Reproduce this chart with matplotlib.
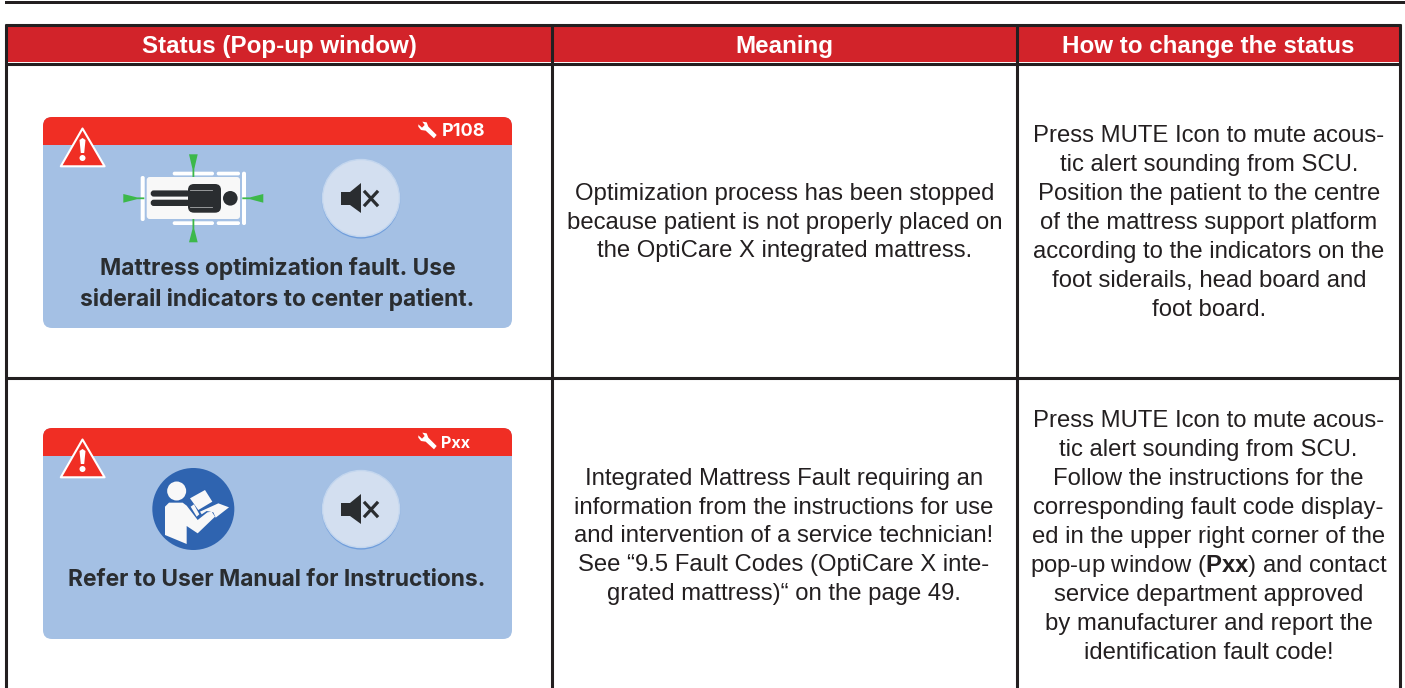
import matplotlib
matplotlib.use("Agg")
import matplotlib.pyplot as plt
from matplotlib.patches import Rectangle, Circle, Polygon, FancyBboxPatch

plt.rcParams['font.family'] = ['Liberation Sans', 'DejaVu Sans']
plt.rcParams['mathtext.fontset'] = 'custom'
plt.rcParams['mathtext.rm'] = 'Liberation Sans'
plt.rcParams['mathtext.bf'] = 'Liberation Sans:bold'

# table content
headers = ["Status (Pop-up window)", "Meaning", "How to change the status"]
meaning_1 = ["Optimization process has been stopped",
             "because patient is not properly placed on",
             "the OptiCare X integrated mattress."]
meaning_2 = ["Integrated Mattress Fault requiring an",
             "information from the instructions for use",
             "and intervention of a service technician!",
             "See \u201c9.5 Fault Codes (OptiCare X inte-",
             "grated mattress)\u201c on the page 49."]
change_1 = ["Press MUTE Icon to mute acous-",
            "tic alert sounding from SCU.",
            "Position the patient to the centre",
            "of the mattress support platform",
            "according to the indicators on the",
            "foot siderails, head board and",
            "foot board."]
change_2 = ["Press MUTE Icon to mute acous-",
            "tic alert sounding from SCU.",
            "Follow the instructions for the",
            "corresponding fault code display-",
            "ed in the upper right corner of the",
            r"pop-up window ($\mathbf{Pxx}$) and contact",
            "service department approved",
            "by manufacturer and report the",
            "identification fault code!"]
card_text_1 = ["Mattress optimization fault. Use", "siderail indicators to center patient."]
card_text_2 = ["Refer to User Manual for Instructions."]
codes = ["P108", "Pxx"]
code_sizes = [13, 11.6]

LINE = "#231f20"
RED = "#d2232a"
CARD = "#a4c0e4"
CARD_RED = "#f02e24"
DARK = "#2a2d30"
GREEN = "#3cb84a"
PAPER = "#f8f8f8"

fig = plt.figure(figsize=(14.05, 6.88), dpi=100)
ax = fig.add_axes([0, 0, 1, 1])
ax.set_xlim(0, 1405)
ax.set_ylim(688, 0)
ax.axis('off')


def rect(x0, y0, x1, y1, color, z=1):
    ax.add_patch(Rectangle((x0, y0), x1 - x0, y1 - y0, fc=color, ec='none', zorder=z))


def rrect(x0, y0, x1, y1, r, color, z=5):
    ax.add_patch(FancyBboxPatch((x0, y0), x1 - x0, y1 - y0,
                                boxstyle="round,pad=0,rounding_size=%g" % r,
                                fc=color, ec='none', zorder=z))


def poly(points, color, z=5):
    ax.add_patch(Polygon(points, closed=True, fc=color, ec='none', zorder=z))


def text_block(lines, x, y_mid, step=28.9):
    y0 = y_mid - step * (len(lines) - 1) / 2
    for i, s in enumerate(lines):
        ax.text(x, y0 + i * step, s, ha='center', va='center', fontsize=17.2, color=LINE)


def card(top, code, size):
    # blue card with red title band
    rrect(43, top, 512, top + 211, 9, CARD, 2)
    rrect(43, top, 512, top + 22, 9, CARD_RED, 3)
    rect(43, top + 12, 512, top + 28, CARD_RED, 3)

    # warning triangle
    ax.add_patch(Polygon([(82.5, top + 11.5), (60.8, top + 49.3), (104.6, top + 49.3)], closed=True,
                         fc=CARD_RED, ec='white', lw=1.5, joinstyle='round', zorder=5))
    poly([(79.5, top + 23), (82.5, top + 21), (85.5, top + 23), (84.2, top + 36), (80.8, top + 36)], 'white', 6)
    ax.add_patch(Circle((82.5, top + 41), 3, fc='white', ec='none', zorder=6))

    # wrench and fault code
    wrench = [(37, 20), (50, 22), (55, 35), (80, 60), (72, 70), (47, 47), (33, 45), (25, 35), (25, 28),
              (36, 38), (44, 30)]
    poly([(410 + a / 3, top - 2 + b / 3) for a, b in wrench], 'white', 6)
    ax.text(441.5, top + 15, code, ha='left', va='center', fontsize=size, color='white',
            family='Inter', fontweight='bold', zorder=6)

    # mute button
    cy = top + 81
    ax.add_patch(Circle((361, cy + 1), 39.5, fc='#93b5e2', ec='none', zorder=4))
    ax.add_patch(Circle((361, cy + 2), 38.5, fc='#6f9ddb', ec='none', zorder=4))
    ax.add_patch(Circle((361, cy), 38.5, fc='#d3dff0', ec='#c3d6ee', lw=1, zorder=5))
    poly([(341, cy - 6), (350, cy - 6), (361, cy - 15), (361, cy + 15), (350, cy + 7), (341, cy + 7)], DARK, 6)
    ax.plot([365, 377], [cy - 6, cy + 7], color=DARK, lw=2.3, zorder=6)
    ax.plot([365, 377], [cy + 7, cy - 6], color=DARK, lw=2.3, zorder=6)


def bed_icon(cy):
    # mattress and rails
    rrect(146.7, cy - 21, 240, cy + 21, 3, PAPER, 5)
    rrect(140.7, cy - 22, 144.7, cy + 23, 1.8, 'white', 5)
    rrect(242, cy - 26.3, 246, cy + 27, 1.8, 'white', 5)
    for yy in (cy - 26.3, cy + 23.3):
        rrect(172.7, yy, 214, yy + 3.7, 1.8, 'white', 5)
        rrect(216.7, yy, 240, yy + 3.7, 1.8, 'white', 5)
    # patient
    rrect(150.7, cy - 7.6, 190, cy - 1.4, 3, DARK, 6)
    rrect(150.7, cy + 1.7, 190, cy + 8, 3, DARK, 6)
    rrect(188, cy - 14, 221, cy + 14.7, 6, DARK, 6)
    ax.plot([190, 212], [cy - 8, cy - 8], color='#a8aaac', lw=0.6, zorder=7)
    ax.plot([190, 212], [cy + 8.7, cy + 8.7], color='#a8aaac', lw=0.6, zorder=7)
    ax.add_patch(Circle((230.3, cy + 0.3), 7.3, fc=DARK, ec='none', zorder=6))
    # green centering arrows, tapering into a thin stem
    mx = 193.4
    poly([(189, cy - 43.7), (197.7, cy - 43.7), (mx + 0.9, cy - 29), (mx + 0.9, cy - 21),
          (mx - 0.9, cy - 21), (mx - 0.9, cy - 29)], GREEN, 6)
    poly([(189, cy + 44.3), (197.7, cy + 44.3), (mx + 0.9, cy + 31), (mx + 0.9, cy + 21),
          (mx - 0.9, cy + 21), (mx - 0.9, cy + 31)], GREEN, 6)
    poly([(123.3, cy - 4), (123.3, cy + 4.7), (137, cy + 1.2), (144.3, cy + 1.2),
          (144.3, cy - 0.6), (137, cy - 0.6)], GREEN, 6)
    poly([(263.3, cy - 4), (263.3, cy + 4.7), (250, cy + 1.2), (242.3, cy + 1.2),
          (242.3, cy - 0.6), (250, cy - 0.6)], GREEN, 6)


def manual_icon(x0, y0):
    def shift(points):
        return [(x0 + a / 3, y0 + b / 3) for a, b in points]
    ax.add_patch(Circle((x0 + 130 / 3, y0 + 132 / 3), 41, fc='#2f64b0', ec='none', zorder=5))
    ax.add_patch(Circle((x0 + 80 / 3, y0 + 78 / 3), 9.5, fc=PAPER, ec='none', zorder=6))
    poly(shift([(45, 125), (57, 113), (98, 113), (110, 122), (143, 165), (172, 142), (185, 140), (195, 155),
                (143, 205), (110, 183), (110, 237), (45, 210)]), PAPER, 6)
    poly(shift([(120, 100), (165, 75), (187, 110), (145, 135)]), PAPER, 6)
    poly(shift([(122, 125), (132, 118), (148, 148), (140, 155)]), PAPER, 6)
    poly(shift([(150, 140), (205, 115), (237, 127), (197, 158), (190, 142), (170, 138), (155, 148)]), PAPER, 6)


# page rule and table grid
rect(5, 0.5, 1405, 3.8, LINE)
rect(7, 25, 1400, 62, RED)
for y in (24.5, 63.5, 377.5):
    ax.plot([5, 1401], [y, y], color=LINE, lw=2.2, zorder=3, solid_capstyle='butt')
for x in (6, 551.5, 1017, 1400):
    ax.plot([x, x], [23.5, 688], color=LINE, lw=2.2, zorder=3, solid_capstyle='butt')

for s, x in zip(headers, (279.5, 784, 1208)):
    ax.text(x, 46.3, s, ha='center', va='center', fontsize=17.4, fontweight='bold', color='white', zorder=4)

text_block(meaning_1, 784.5, 222.5)
text_block(meaning_2, 784, 536.5)
text_block(change_1, 1209, 223)
text_block(change_2, 1208.5, 537)

card(117, codes[0], code_sizes[0])
card(428, codes[1], code_sizes[1])
bed_icon(198)
manual_icon(150, 465)

for i, s in enumerate(card_text_1):
    ax.text(277.5, 268 + i * 31.5, s, ha='center', va='center', fontsize=16.4, family='Inter',
            fontweight='bold', color=DARK, zorder=6)
ax.text(277, 580, card_text_2[0], ha='center', va='center', fontsize=16.4, family='Inter',
        fontweight='bold', color=DARK, zorder=6)

fig.savefig("out.png", dpi=100, facecolor='white')
